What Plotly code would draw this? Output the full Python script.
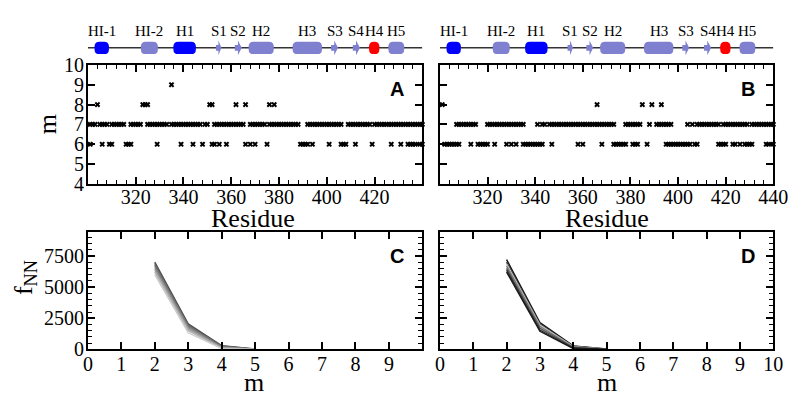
import plotly.graph_objects as go

# ---- per-residue nearest-neighbour counts (m) for system A ----
a_m6 = [301, 306, 309, 310, 316, 317, 318, 329, 339, 344, 348, 352, 353, 355, 358,
        366, 368, 370, 375, 389, 390, 391, 392, 394, 401, 406, 407, 408, 412, 419,
        427, 431, 434, 435, 436, 437, 439, 440]
a_m7 = [301, 302, 303, 305, 306, 307, 308, 310, 311, 312, 313, 314, 315,
        318, 319, 320, 321, 322, 325, 326, 327, 328, 329, 330, 331, 332, 333, 335,
        336, 337, 338, 339, 340, 341, 342, 343, 344, 345, 346, 347, 349, 350,
        353, 354, 355, 356, 357, 358, 359, 360, 361, 362, 363, 364, 365,
        368, 369, 370, 371, 372, 373, 374, 376, 377, 378, 379, 380, 381, 382, 383,
        384, 385, 386, 387, 388, 392, 393, 394, 395, 396, 397, 398, 399, 400, 401,
        402, 403, 404, 405, 406, 409, 410, 411, 412, 413, 414, 415, 416, 417, 418,
        420, 421, 422, 423, 424, 425, 426, 427, 428, 429, 430, 431, 432, 433, 434,
        435, 436, 437, 438, 439, 440]
a_m8 = [304, 323, 324, 325, 351, 352, 362, 366, 376, 378]
a_m9 = [335]

# ---- per-residue nearest-neighbour counts (m) for system B ----
b_m6 = [302, 303, 304, 305, 306, 307, 308, 313, 316, 317, 318, 319, 320, 323, 328,
        330, 332, 335, 336, 337, 338, 339, 340, 341, 342, 343, 347, 358, 360, 368,
        373, 374, 375, 376, 377, 378, 381, 382, 383, 387, 395, 396, 397, 398, 399,
        400, 401, 402, 403, 404, 405, 407, 408, 417, 418, 419, 420, 423, 424, 426,
        428, 429, 430, 431, 437, 438, 440]
b_m7 = [307, 308, 309, 310, 311, 312, 313, 314, 315, 320, 321, 322, 323, 324, 325,
        326, 327, 328, 329, 330, 331, 332, 333, 334, 335, 341, 343, 344, 346, 347,
        348, 349, 350, 351, 352, 353, 354, 355, 356, 357, 358, 359, 360, 361, 362,
        363, 364, 365, 366, 367, 368, 369, 370, 371, 372, 373, 378, 379, 380, 381,
        382, 383, 384, 388, 391, 392, 393, 394, 395, 396, 397, 404, 406, 408, 409,
        410, 411, 412, 413, 414, 415, 416, 417, 419, 420, 421, 422, 423, 424, 425,
        426, 427, 428, 429, 431, 432, 433, 434, 435, 436, 437, 438, 439, 440]
b_m8 = [301, 366, 385, 389, 393]

# ---- frequency of nearest-neighbour count, f_NN(m) ----
m_vals = [2, 3, 4, 5]
c_series = [
    [7000, 2050, 300, 30],
    [6900, 1980, 270, 25],
    [6780, 1900, 240, 20],
    [6650, 1820, 200, 15],
    [6500, 1720, 170, 10],
    [6350, 1620, 140, 10],
    [6200, 1500, 100, 5],
    [6000, 1330, 60, 0],
]
c_colors = ['#4a4a4a', '#5a5a5a', '#6a6a6a', '#7a7a7a', '#8c8c8c', '#9e9e9e',
            '#b4b4b4', '#cccccc']
d_series = [
    [7200, 2150, 280, 30],
    [7000, 2050, 250, 25],
    [6850, 1950, 220, 20],
    [6700, 1850, 190, 15],
    [6500, 1700, 150, 10],
    [6350, 1550, 110, 5],
    [6200, 1450, 70, 0],
]
d_colors = ['#111111', '#3a3a3a', '#c8c8c8', '#7a7a7a', '#555555', '#2a2a2a',
            '#1a1a1a']

# ---- secondary-structure elements ----
ss_names = ['HI-1', 'HI-2', 'H1', 'S1', 'S2', 'H2', 'H3', 'S3', 'S4', 'H4', 'H5']
ss_start = [302.8, 322.2, 335.8, 353.6, 361.5, 367.3, 385.7, 401.8, 410.9, 417.7, 425.8]
ss_end = [308.8, 329.3, 345.2, 355.9, 364.4, 377.8, 398.0, 404.7, 413.9, 422.0, 432.4]
ss_kind = ['helix', 'helix', 'helix', 'strand', 'strand', 'helix', 'helix',
           'strand', 'strand', 'helix', 'helix']
ss_color = ['#0000ff', '#8080d0', '#0000ff', '#8080d0', '#8080d0', '#8080d0',
            '#8080d0', '#8080d0', '#8080d0', '#ff0000', '#8080d0']

SERIF = 'Liberation Serif, Times New Roman, serif'
SANS = 'Liberation Sans, Arial, sans-serif'
W, H = 802, 402


def px_x(p):
    return p / W


def px_y(p):
    return 1 - p / H


fig = go.Figure()


def dots(xs, level, xa, ya):
    fig.add_trace(go.Scatter(
        x=xs, y=[level] * len(xs), mode='markers', xaxis=xa, yaxis=ya,
        marker=dict(symbol='x', size=5, color='black', line=dict(width=0)),
        showlegend=False, hoverinfo='x+y', cliponaxis=False))


for xs, lvl in [(a_m6, 6), (a_m7, 7), (a_m8, 8), (a_m9, 9)]:
    dots(xs, lvl, 'x', 'y')
for xs, lvl in [(b_m6, 6), (b_m7, 7), (b_m8, 8)]:
    dots(xs, lvl, 'x2', 'y2')

for vals, col in zip(c_series, c_colors):
    fig.add_trace(go.Scatter(x=m_vals, y=vals, mode='lines', xaxis='x3', yaxis='y3',
                             line=dict(color=col, width=1.4), showlegend=False))
for vals, col in zip(d_series, d_colors):
    fig.add_trace(go.Scatter(x=m_vals, y=vals, mode='lines', xaxis='x4', yaxis='y4',
                             line=dict(color=col, width=1.4), showlegend=False))

# domains (paper fractions)
xa_dom = [px_x(85), px_x(428)]
xb_dom = [px_x(446), px_x(788)]
top_dom = [px_y(183), px_y(57)]
bot_dom = [px_y(358), px_y(234)]
track_dom = [px_y(50), px_y(28)]

axis_common = dict(showline=True, linecolor='black', linewidth=2, mirror='ticks',
                   ticks='inside', ticklen=7, tickwidth=1.5, tickcolor='black',
                   showgrid=False, zeroline=False,
                   tickfont=dict(family=SERIF, size=20, color='black'))
res_minor = dict(dtick=4, tick0=300, ticks='inside', ticklen=4, tickwidth=1,
                 tickcolor='black', showgrid=False)
f_minor = dict(dtick=500, tick0=0, ticks='inside', ticklen=4, tickwidth=1,
               tickcolor='black', showgrid=False)

layout = dict(
    width=W, height=H, autosize=False,
    margin=dict(l=0, r=0, t=0, b=0),
    paper_bgcolor='white', plot_bgcolor='white',
    xaxis=dict(domain=xa_dom, anchor='y', range=[300, 440],
               tickvals=[320, 340, 360, 380, 400, 420], minor=res_minor,
               ticklabelstandoff=-6, **axis_common),
    yaxis=dict(domain=top_dom, anchor='x', range=[4, 10], dtick=1,
               ticklabelstandoff=-2, **axis_common),
    xaxis2=dict(domain=xb_dom, anchor='y2', range=[300, 440],
                tickvals=[320, 340, 360, 380, 400, 420, 440], minor=res_minor,
                ticklabelstandoff=-6, **axis_common),
    yaxis2=dict(domain=top_dom, anchor='x2', range=[4, 10], dtick=1,
                showticklabels=False, **axis_common),
    xaxis3=dict(domain=xa_dom, anchor='y3', range=[0, 10],
                tickvals=[0, 1, 2, 3, 4, 5, 6, 7, 8, 9], ticklabelstandoff=-4,
                **axis_common),
    yaxis3=dict(domain=bot_dom, anchor='x3', range=[0, 9400],
                tickvals=[0, 2500, 5000, 7500], minor=f_minor,
                ticklabelstandoff=-2, **axis_common),
    xaxis4=dict(domain=xb_dom, anchor='y4', range=[0, 10], dtick=1,
                ticklabelstandoff=-4, **axis_common),
    yaxis4=dict(domain=bot_dom, anchor='x4', range=[0, 9400],
                tickvals=[0, 2500, 5000, 7500], minor=f_minor,
                showticklabels=False, **axis_common),
    xaxis5=dict(domain=xa_dom, anchor='y5', range=[300, 440], visible=False),
    yaxis5=dict(domain=track_dom, anchor='x5', range=[-1, 1], visible=False),
    xaxis6=dict(domain=xb_dom, anchor='y6', range=[300, 440], visible=False),
    yaxis6=dict(domain=track_dom, anchor='x6', range=[-1, 1], visible=False),
)
fig.update_layout(**layout)


def rounded_path(s, e, h, rx, ry):
    rx = min(rx, (e - s) / 2)
    return (f'M {s + rx},{-h} L {e - rx},{-h} Q {e},{-h} {e},{-h + ry} '
            f'L {e},{h - ry} Q {e},{h} {e - rx},{h} L {s + rx},{h} '
            f'Q {s},{h} {s},{h - ry} L {s},{-h + ry} Q {s},{-h} {s + rx},{-h} Z')


def strand_path(s, e):
    mid = s + 0.45 * (e - s)
    return (f'M {s},-0.28 L {mid},-0.28 L {mid},-0.7 L {e},0 L {mid},0.7 '
            f'L {mid},0.28 L {s},0.28 Z')


shapes = []
annotations = []
for xr, yr in [('x5', 'y5'), ('x6', 'y6')]:
    shapes.append(dict(type='line', xref=xr, yref=yr, x0=300, x1=440, y0=0, y1=0,
                       line=dict(color='#333333', width=1.5)))
    for name, s, e, kind, col in zip(ss_names, ss_start, ss_end, ss_kind, ss_color):
        path = rounded_path(s, e, 0.6, 2.0, 0.45) if kind == 'helix' else strand_path(s, e)
        shapes.append(dict(type='path', xref=xr, yref=yr, path=path,
                           fillcolor=col, line=dict(width=0)))
        annotations.append(dict(text=name, xref=xr, yref='paper', x=(s + e) / 2,
                                y=px_y(21.5), showarrow=False, xanchor='center',
                                yanchor='middle',
                                font=dict(family=SERIF, size=15, color='black')))

# panel letters
for letter, xr, yr in [('A', 'x', 'y'), ('B', 'x2', 'y2'), ('C', 'x3', 'y3'), ('D', 'x4', 'y4')]:
    annotations.append(dict(text=f'<b>{letter}</b>', xref=f'{xr} domain',
                            yref=f'{yr} domain', x=0.925, y=0.80, showarrow=False,
                            xanchor='center', yanchor='middle',
                            font=dict(family=SANS, size=20, color='black')))

# axis titles
title_font = dict(family=SERIF, size=26, color='black')
annotations += [
    dict(text='m', xref='paper', yref='paper', x=px_x(44), y=px_y(120), textangle=-90,
         showarrow=False, xanchor='center', yanchor='middle', font=title_font),
    dict(text='Residue', xref='paper', yref='paper', x=px_x(254), y=px_y(219),
         showarrow=False, xanchor='center', yanchor='middle', font=title_font),
    dict(text='Residue', xref='paper', yref='paper', x=px_x(617), y=px_y(219),
         showarrow=False, xanchor='center', yanchor='middle', font=title_font),
    dict(text='f<sub>NN</sub>', xref='paper', yref='paper', x=px_x(20), y=px_y(282),
         textangle=-90, showarrow=False, xanchor='center', yanchor='middle',
         font=title_font),
    dict(text='m', xref='paper', yref='paper', x=px_x(255), y=px_y(393),
         showarrow=False, xanchor='center', yanchor='middle', font=title_font),
    dict(text='m', xref='paper', yref='paper', x=px_x(617), y=px_y(393),
         showarrow=False, xanchor='center', yanchor='middle', font=title_font),
]

fig.update_layout(shapes=shapes, annotations=annotations)
fig.write_html('out.html')
